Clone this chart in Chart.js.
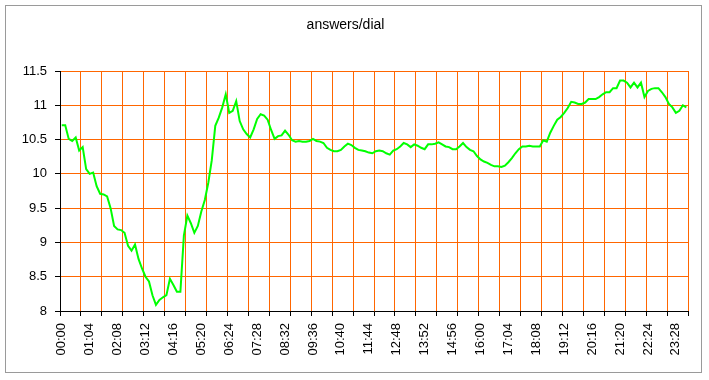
<!DOCTYPE html>
<html>
<head>
<meta charset="utf-8">
<script src="https://cdn.jsdelivr.net/npm/chart.js@4.4.0/dist/chart.umd.min.js"></script>
<style>
  html, body { margin: 0; padding: 0; background: #fff; }
  #wrap { width: 709px; height: 380px; position: relative; }
</style>
</head>
<body>
<div id="wrap"><canvas id="c" width="709" height="380"></canvas></div>
<script>
// Time categories: one every 8 minutes over the day
const categories = [];
for (let m = 0; m < 1440; m += 8) {
  categories.push(String(Math.floor(m / 60)).padStart(2, '0') + ':' + String(m % 60).padStart(2, '0'));
}
// Labels shown on the axis (every 64 minutes)
const tickLabels = ['00:00','01:04','02:08','03:12','04:16','05:20','06:24','07:28','08:32','09:36','10:40','11:44',
  '12:48','13:52','14:56','16:00','17:04','18:08','19:12','20:16','21:20','22:24','23:28'];
const yTicks = [8, 8.5, 9, 9.5, 10, 10.5, 11, 11.5];

const answersPerDial = [
  10.71,10.71,10.51,10.48,10.53,10.34,10.39,10.07,10.00,10.02,
  9.82,9.71,9.70,9.67,9.50,9.24,9.19,9.18,9.14,8.95,
  8.88,8.97,8.76,8.62,8.50,8.43,8.23,8.09,8.16,8.20,
  8.23,8.47,8.38,8.28,8.28,9.10,9.39,9.28,9.14,9.24,
  9.45,9.62,9.87,10.20,10.70,10.82,10.97,11.16,10.89,10.92,
  11.06,10.77,10.65,10.58,10.53,10.65,10.80,10.87,10.85,10.79,
  10.64,10.51,10.55,10.56,10.63,10.57,10.49,10.47,10.48,10.47,
  10.47,10.48,10.51,10.48,10.47,10.45,10.38,10.35,10.33,10.33,
  10.35,10.40,10.44,10.42,10.38,10.35,10.34,10.33,10.31,10.30,
  10.33,10.34,10.33,10.30,10.28,10.34,10.36,10.40,10.45,10.43,
  10.39,10.43,10.41,10.38,10.36,10.43,10.43,10.44,10.46,10.43,
  10.40,10.39,10.36,10.36,10.40,10.45,10.39,10.35,10.33,10.26,
  10.21,10.18,10.16,10.13,10.11,10.11,10.10,10.12,10.17,10.23,
  10.30,10.36,10.40,10.40,10.41,10.40,10.40,10.40,10.49,10.47,
  10.60,10.70,10.79,10.83,10.89,10.96,11.05,11.04,11.02,11.02,
  11.04,11.09,11.09,11.09,11.12,11.16,11.19,11.19,11.25,11.25,
  11.36,11.36,11.33,11.26,11.33,11.26,11.33,11.12,11.21,11.24,
  11.25,11.25,11.19,11.12,11.02,10.97,10.89,10.92,11.00,10.97
];

const ORANGE = '#FF6600';
const FONT = "'Liberation Sans', Arial, sans-serif";

const framePlugin = {
  id: 'frame',
  beforeDraw(chart) {
    const ctx = chart.ctx;
    ctx.save();
    ctx.fillStyle = '#ffffff';
    ctx.fillRect(0, 0, chart.width, chart.height);
    ctx.strokeStyle = '#9a9a9a';
    ctx.lineWidth = 1;
    ctx.strokeRect(5.5, 5.5, 696, 367);
    ctx.restore();
  }
};

new Chart(document.getElementById('c'), {
  type: 'line',
  data: {
    labels: categories,
    datasets: [{
      data: answersPerDial,
      borderColor: '#00FF00',
      borderWidth: 2,
      pointRadius: 0,
      tension: 0,
      fill: false
    }]
  },
  options: {
    responsive: false,
    animation: false,
    devicePixelRatio: 1,
    layout: { padding: { left: 0, right: 18, top: 0, bottom: 0 } },
    plugins: {
      legend: { display: false },
      tooltip: { enabled: false },
      title: {
        display: true,
        text: 'answers/dial',
        color: '#000',
        font: { family: FONT, size: 14, weight: 'normal' },
        padding: { top: 17, bottom: 37.2 }
      }
    },
    scales: {
      x: {
        type: 'category',
        offset: true,
        afterFit(s) { s.height = 69; },
        border: { display: true, color: '#000', width: 1 },
        grid: {
          offset: true,
          drawTicks: true,
          tickLength: 5,
          lineWidth: 1,
          color: c => (c.index === undefined || c.index % 6 === 0) ? ORANGE : 'rgba(0,0,0,0)',
          tickColor: c => (c.index === undefined || c.index % 6 === 0) ? '#000' : 'rgba(0,0,0,0)'
        },
        ticks: {
          autoSkip: false,
          minRotation: 90,
          maxRotation: 90,
          padding: 7,
          color: '#000',
          font: { family: FONT, size: 13 },
          callback: (v, i) => (i % 8 === 0 && tickLabels.includes(categories[i])) ? categories[i] : ''
        }
      },
      y: {
        min: yTicks[0],
        max: yTicks[yTicks.length - 1],
        afterFit(s) { s.width = 60; },
        afterBuildTicks(s) { s.ticks = yTicks.map(v => ({ value: v })); },
        border: { display: true, color: '#000', width: 1 },
        grid: {
          color: ORANGE,
          lineWidth: 1,
          tickLength: 5,
          tickColor: '#000'
        },
        ticks: {
          padding: 8,
          color: '#000',
          font: { family: FONT, size: 13 },
          callback: v => String(v)
        }
      }
    }
  },
  plugins: [framePlugin]
});
</script>
</body>
</html>
